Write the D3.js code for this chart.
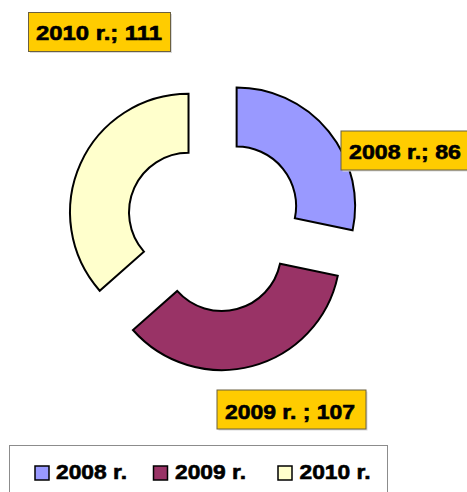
<!DOCTYPE html>
<html><head><meta charset="utf-8">
<script src="https://cdn.jsdelivr.net/npm/d3@7"></script>
<style>body{margin:0;background:#fff}svg{display:block}</style>
</head><body>
<svg id="c" width="467" height="492"></svg>
<script>
const categories = ["2008 r.", "2009 r.", "2010 r."];
const values = [86, 107, 111];
const labelTexts = ["2008 r.; 86", "2009 r. ; 107", "2010 r.; 111"];
const colors = ["#9999FF", "#993366", "#FFFFCC"];

const svg = d3.select("#c");
const cx = 214.5, cy = 224, explode = 28.5;
const pie = d3.pie().sort(null).value(d => d)(values);
const arc = d3.arc().innerRadius(59.5).outerRadius(118.5);

const g = svg.append("g").attr("transform", `translate(${cx},${cy})`);
g.selectAll("path").data(pie).join("path")
  .attr("d", arc)
  .attr("fill", (d, i) => colors[i])
  .attr("stroke", "#000").attr("stroke-width", 2).attr("stroke-linejoin", "miter")
  .attr("transform", d => {
    const a = (d.startAngle + d.endAngle) / 2;
    return `translate(${explode * Math.sin(a)},${-explode * Math.cos(a)})`;
  });

// data label boxes
const labelBoxes = [
  {x: 341, y: 131, w: 130, h: 39, tx: 349, tw: 112, base: 158.5},
  {x: 217, y: 390, w: 149, h: 39, tx: 225, tw: 130, base: 419},
  {x: 28.5, y: 12.5, w: 142, h: 39, tx: 36, tw: 126, base: 39.5}
];
const lg = svg.append("g");
labelBoxes.forEach((b, i) => {
  lg.append("rect").attr("x", b.x + 1.5).attr("y", b.y + 1.5).attr("width", b.w).attr("height", b.h)
    .attr("fill", "#d9d9d9");
  lg.append("rect").attr("x", b.x).attr("y", b.y).attr("width", b.w).attr("height", b.h)
    .attr("fill", "#FFCC00").attr("stroke", "#6b6040").attr("stroke-width", 1);
  lg.append("text").attr("x", b.tx).attr("y", b.base)
    .attr("font-family", "Liberation Sans, Arial, sans-serif").attr("font-weight", "bold")
    .attr("font-size", 20).attr("fill", "#000")
    .attr("stroke", "#000").attr("stroke-width", 0.6)
    .attr("textLength", b.tw).attr("lengthAdjust", "spacingAndGlyphs")
    .text(labelTexts[i]);
});

// legend
const leg = svg.append("g");
leg.append("rect").attr("x", 9.5).attr("y", 445.5).attr("width", 378).attr("height", 60)
  .attr("fill", "#fff").attr("stroke", "#8c8c8c").attr("stroke-width", 1);
const legItems = [
  {sx: 35, tx: 56, tw: 71},
  {sx: 153.5, tx: 175, tw: 71},
  {sx: 278, tx: 299.5, tw: 71}
];
legItems.forEach((it, i) => {
  leg.append("rect").attr("x", it.sx).attr("y", 466).attr("width", 14).attr("height", 14)
    .attr("fill", colors[i]).attr("stroke", "#000").attr("stroke-width", 1.5);
  leg.append("text").attr("x", it.tx).attr("y", 479)
    .attr("font-family", "Liberation Sans, Arial, sans-serif").attr("font-weight", "bold")
    .attr("font-size", 21).attr("fill", "#000")
    .attr("stroke", "#000").attr("stroke-width", 0.6)
    .attr("textLength", it.tw).attr("lengthAdjust", "spacingAndGlyphs")
    .text(categories[i]);
});
</script>
</body></html>
